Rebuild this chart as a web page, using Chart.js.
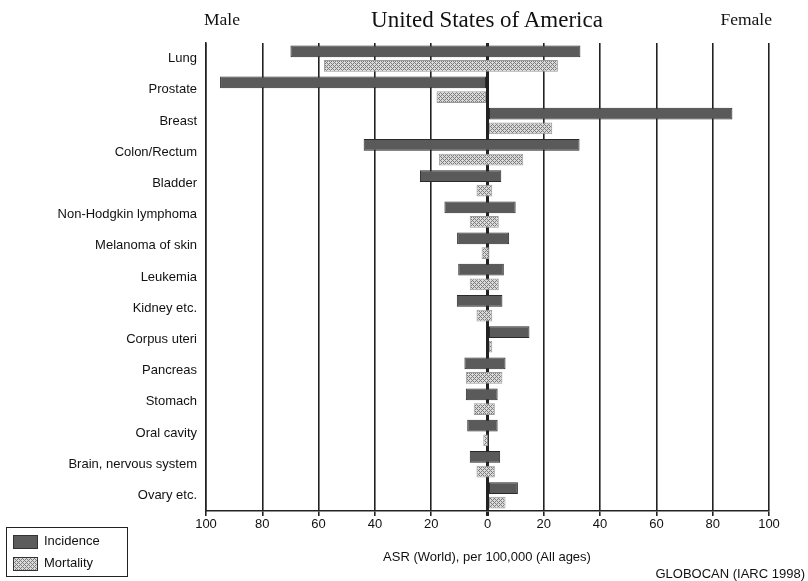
<!DOCTYPE html>
<html>
<head>
<meta charset="utf-8">
<script src="https://cdn.jsdelivr.net/npm/chart.js@4"></script>
<style>
  body { margin: 0; background: #fff; }
  #wrap { position: relative; width: 808px; height: 581px; overflow: hidden; }
  .txt { position: absolute; white-space: nowrap; color: #111; }
  .serif { font-family: "Liberation Serif", "Times New Roman", serif; }
  .sans { font-family: "Liberation Sans", Arial, sans-serif; font-size: 13px; }
  #legend { position: absolute; left: 6px; top: 527px; width: 120px; height: 48px; border: 1.5px solid #222; }
  .item { position: absolute; left: 6px; height: 14px; font: 13px "Liberation Sans", Arial, sans-serif; color: #111; }
  .sw { display: inline-block; width: 23px; height: 12px; border: 1px solid #333; vertical-align: middle; margin-right: 6px; }
</style>
</head>
<body>
<div id="wrap">
  <canvas id="chart" width="808" height="581"></canvas>
  <div class="txt serif" style="left:204px; top:9px; font-size:17.5px;">Male</div>
  <div class="txt serif" style="left:487px; top:7px; font-size:23px; transform:translateX(-50%);">United States of America</div>
  <div class="txt serif" style="right:36px; top:9px; font-size:17.5px;">Female</div>
  <div class="txt sans" style="left:487px; top:549px; transform:translateX(-50%);">ASR (World), per 100,000 (All ages)</div>
  <div class="txt sans" style="right:3px; top:566px;">GLOBOCAN (IARC 1998)</div>
  <div id="legend">
    <div class="item" style="top:5px;"><span class="sw" style="background:#5c5c5c;"></span>Incidence</div>
    <div class="item" style="top:27px;"><span class="sw" id="mortSwatch"></span>Mortality</div>
  </div>
</div>
<script>
// --- 1. Data (ASR per 100,000, men on the left, women on the right) ---
const categories = ['Lung', 'Prostate', 'Breast', 'Colon/Rectum', 'Bladder', 'Non-Hodgkin lymphoma',
  'Melanoma of skin', 'Leukemia', 'Kidney etc.', 'Corpus uteri', 'Pancreas', 'Stomach',
  'Oral cavity', 'Brain, nervous system', 'Ovary etc.'];
const incidenceMale   = [70, 95, 0, 44, 24, 15.3, 10.8, 10.4, 10.9, 0, 8.2, 7.7, 7.2, 6.3, 0];
const incidenceFemale = [33, 0, 87, 32.7, 4.9, 10, 7.7, 5.8, 5.3, 14.9, 6.4, 3.6, 3.6, 4.5, 10.8];
const mortalityMale   = [58.1, 18.1, 0, 17.3, 3.9, 6.3, 2.1, 6.3, 3.9, 0, 7.7, 4.9, 1.5, 3.9, 0];
const mortalityFemale = [25, 0, 23, 12.7, 1.7, 4, 0.7, 4, 1.7, 1.7, 5.3, 2.6, 0.3, 2.6, 6.4];
const xTicks = [-100, -80, -60, -40, -20, 0, 20, 40, 60, 80, 100];

// --- 2. Cross-hatch pattern for mortality ---
const tile = document.createElement('canvas');
tile.width = 4; tile.height = 4;
const tctx = tile.getContext('2d');
tctx.fillStyle = '#dadada';
tctx.fillRect(0, 0, 4, 4);
tctx.fillStyle = '#7c7c7c';
for (let i = 0; i < 4; i++) {
  tctx.fillRect(i, i, 1, 1);           // diagonal \
  tctx.fillRect(i, (4 - i) % 4, 1, 1); // diagonal /
}
const hatch = document.getElementById('chart').getContext('2d').createPattern(tile, 'repeat');
document.getElementById('mortSwatch').style.backgroundImage = 'url(' + tile.toDataURL() + ')';

const font = { family: '"Liberation Sans", Arial, sans-serif', size: 13 };

// --- 3. Chart ---
new Chart(document.getElementById('chart'), {
  type: 'bar',
  data: {
    labels: categories,
    datasets: [
      {
        label: 'Incidence',
        data: categories.map((c, i) => [-incidenceMale[i], incidenceFemale[i]]),
        backgroundColor: '#5a5a5a',
        borderColor: '#2a2a2a',
        borderWidth: 1,
        borderSkipped: false
      },
      {
        label: 'Mortality',
        data: categories.map((c, i) => [-mortalityMale[i], mortalityFemale[i]]),
        backgroundColor: hatch,
        borderColor: '#9a9a9a',
        borderWidth: 1,
        borderSkipped: false
      }
    ]
  },
  options: {
    indexAxis: 'y',
    responsive: false,
    animation: false,
    categoryPercentage: 0.94,
    barPercentage: 0.8,
    layout: { padding: { top: 43, right: 39, bottom: 46, left: 0 } },
    plugins: { legend: { display: false }, tooltip: { enabled: false } },
    scales: {
      x: {
        min: -100, max: 100,
        afterFit: s => { s.height = 24; },
        afterBuildTicks: s => { s.ticks = xTicks.map(v => ({ value: v })); },
        ticks: { color: '#111', padding: 1, font, callback: v => Math.abs(v) },
        grid: {
          color: '#222',
          lineWidth: c => (c.tick && c.tick.value === 0 ? 3 : 1.6),
          tickLength: 5
        },
        border: { display: true, color: '#222', width: 1.5 }
      },
      y: {
        afterFit: s => { s.width = 206; },
        ticks: { color: '#111', padding: 9, font },
        grid: { display: false, drawTicks: false },
        border: { display: true, color: '#222', width: 1.5 }
      }
    }
  }
});
</script>
</body>
</html>
